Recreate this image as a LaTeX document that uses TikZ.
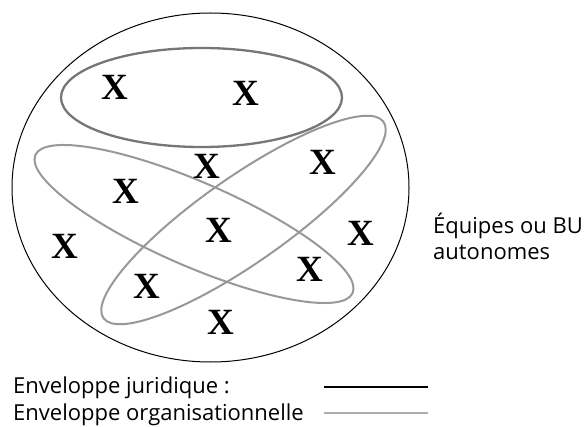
\documentclass[tikz,border=0pt]{standalone}
\usepackage{fontspec}
\setmainfont{Liberation Serif}
\newfontfamily\legendfont{Open Sans}
\definecolor{juridgray}{RGB}{118, 118, 118}
\definecolor{orggray}{RGB}{152, 152, 152}
\definecolor{legendgray}{RGB}{172, 172, 172}

\begin{document}
\begin{tikzpicture}[x=1pt,y=1pt,
        xmark/.style={font=\fontsize{37}{37}\selectfont\bfseries,inner sep=0pt},
        legend/.style={font=\legendfont\fontsize{22}{26}\selectfont,anchor=base west,inner sep=0pt}]
        \useasboundingbox (0,0) rectangle (586,426);

        % envelopes
        \draw[line width=1pt] (210.5,238.5) ellipse (198.5 and 174.5);
        \draw[juridgray,line width=2.3pt] (201.5,328.5) ellipse (140.5 and 49.5);
        \draw[orggray,line width=2pt,rotate around={-23.5:(194,202)}] (194,202) ellipse (173 and 42);
        \draw[orggray,line width=2pt,rotate around={35:(243.5,206)}] (243.5,206) ellipse (171 and 43);

        \coordinate (p1) at (115,339);
        \coordinate (p2) at (246,333);
        \coordinate (p3) at (207,260);
        \coordinate (p4) at (323,264);
        \coordinate (p5) at (126,235);
        \coordinate (p6) at (219,196);
        \coordinate (p7) at (65,180);
        \coordinate (p8) at (361,193);
        \coordinate (p9) at (310,157);
        \coordinate (p10) at (147,140);
        \coordinate (p11) at (221,104);

        \node[xmark] (x1) at (p1){X};
        \node[xmark] (x2) at (p2){X};
        \node[xmark] (x3) at (p3){X};
        \node[xmark] (x4) at (p4){X};
        \node[xmark] (x5) at (p5){X};
        \node[xmark] (x6) at (p6){X};
        \node[xmark] (x7) at (p7){X};
        \node[xmark] (x8) at (p8){X};
        \node[xmark] (x9) at (p9){X};
        \node[xmark] (x10) at (p10){X};
        \node[xmark] (x11) at (p11){X};

        \node[legend,anchor=west,align=left] (units) at (433,190){Équipes ou BU\\autonomes};

        % legend
        \node[legend] (jur) at (13,33){Enveloppe juridique :};
        \node[legend] (org) at (13,6){Enveloppe organisationnelle};
        \coordinate (jurA) at (324,39);
        \coordinate (jurB) at (428,39);
        \coordinate (orgA) at (324,13);
        \coordinate (orgB) at (428,13);
        \draw[black,line width=2pt] (jurA) -- (jurB);
        \draw[legendgray,line width=2pt] (orgA) -- (orgB);
    \end{tikzpicture}
\end{document}
